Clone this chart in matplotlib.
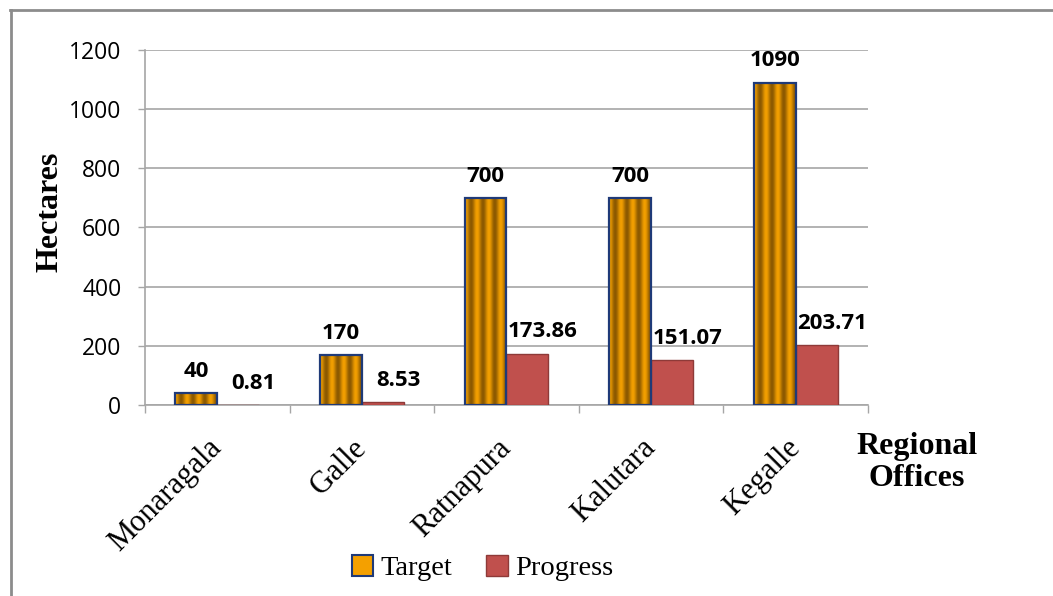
import numpy as np
import matplotlib
matplotlib.use("Agg")
from matplotlib import pyplot as plt
from matplotlib.colors import LinearSegmentedColormap
from matplotlib.patches import Patch
from matplotlib.lines import Line2D
from matplotlib.transforms import blended_transform_factory

offices = ["Monaragala", "Galle", "Ratnapura", "Kalutara", "Kegalle"]
target = [40, 170, 700, 700, 1090]
progress = [0.81, 8.53, 173.86, 151.07, 203.71]
target_labels = ["40", "170", "700", "700", "1090"]
progress_labels = ["0.81", "8.53", "173.86", "151.07", "203.71"]

orange = "#F4A000"
stripe_dark = "#8A5800"
navy = "#1F3A78"
red = "#C0504D"
red_edge = "#8E3A38"
grid_gray = "#A6A6A6"

fig = plt.figure(figsize=(10.53, 5.96), dpi=100)
ax = fig.add_axes([0.1377, 0.3205, 0.6866, 0.5956])

x = np.arange(len(offices))
w = 0.29
stripes = LinearSegmentedColormap.from_list("stripes", [stripe_dark, orange])

# target bars: orange with vertical shading stripes, navy outline
t_bars = ax.bar(x - w / 2, target, w, facecolor="none", edgecolor=navy,
                linewidth=1.6, zorder=4)
pattern = (np.cos(np.linspace(0, 7 * np.pi, 60)) + 1) / 2
for b in t_bars:
    x0, h = b.get_x(), b.get_height()
    ax.imshow(pattern[np.newaxis, :], cmap=stripes, aspect="auto",
              interpolation="bicubic", extent=[x0, x0 + w, 0, h], zorder=3)

p_bars = ax.bar(x + w / 2, progress, w, color=red, edgecolor=red_edge,
                linewidth=1.0, zorder=3)

label_font = dict(family="Open Sans", fontsize=16, fontweight="bold")
for b, lab in zip(t_bars, target_labels):
    ax.annotate(lab, (b.get_x() + w / 2, b.get_height()), xytext=(0, 8),
                textcoords="offset points", ha="center", va="bottom", **label_font)
for b, lab in zip(p_bars, progress_labels):
    ax.annotate(lab, (b.get_x() + w / 2, b.get_height()), xytext=(11, 8),
                textcoords="offset points", ha="center", va="bottom", **label_font)

ax.set_xlim(-0.5, len(offices) - 0.5)
ax.set_ylim(0, 1200)
ax.set_yticks(range(0, 1201, 200))
ax.yaxis.grid(True, color=grid_gray, linewidth=1.2, zorder=0)
ax.set_axisbelow(True)
for lbl in ax.get_yticklabels():
    lbl.set_fontfamily("Open Sans")
ax.tick_params(axis="y", length=5, width=1, color=grid_gray, labelsize=16.5, pad=12)

# category tick marks on group boundaries, names drawn separately
ax.set_xticks(np.arange(-0.5, len(offices)), labels=[])
ax.tick_params(axis="x", length=6, width=1, color=grid_gray)

for side in ["top", "right"]:
    ax.spines[side].set_visible(False)
for side in ["left", "bottom"]:
    ax.spines[side].set_color(grid_gray)
    ax.spines[side].set_linewidth(1.2)

trans = blended_transform_factory(ax.transData, ax.transAxes)
for i, name in enumerate(offices):
    ax.text(i - 0.07, -0.08, name, transform=trans, rotation=45,
            rotation_mode="anchor", ha="right", va="top",
            family="Liberation Serif", fontsize=22)

ax.set_ylabel("Hectares", family="Liberation Serif", fontweight="bold",
              fontsize=23)
ax.yaxis.set_label_coords(-0.112, 0.544)

fig.text(0.871, 0.224, "Regional\nOffices", family="Liberation Serif",
         fontweight="bold", fontsize=23, ha="center", va="center",
         linespacing=1.12)

handles = [Patch(facecolor=orange, edgecolor=navy, linewidth=1.5),
           Patch(facecolor=red, edgecolor=red_edge, linewidth=1.0)]
fig.legend(handles, ["Target", "Progress"], loc="center",
           bbox_to_anchor=(0.458, 0.047), ncol=2, frameon=False,
           prop=dict(family="Liberation Serif", size=20.5),
           handlelength=0.75, handleheight=0.75, handletextpad=0.25,
           columnspacing=1.2)

# outer chart frame
fig.add_artist(Line2D([0.0105, 0.0105], [0.0, 0.983], color="#8C8C8C",
                      linewidth=2, transform=fig.transFigure))
fig.add_artist(Line2D([0.0095, 1.0], [0.983, 0.983], color="#8C8C8C",
                      linewidth=2, transform=fig.transFigure))

fig.savefig("out.png", dpi=100)
